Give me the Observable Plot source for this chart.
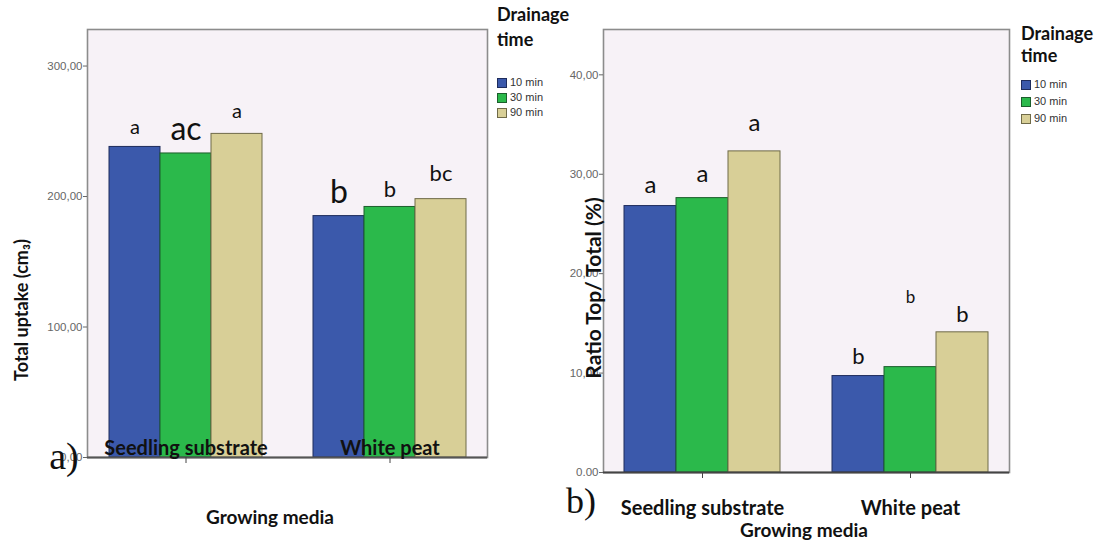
<!DOCTYPE html>
<html><head><meta charset="utf-8">
<script src="https://cdn.jsdelivr.net/npm/d3@7"></script>
<script src="https://cdn.jsdelivr.net/npm/@observablehq/plot@0.6"></script>
<style>
body{margin:0;background:#fff;}
#wrap{position:relative;width:1100px;height:544px;overflow:hidden;font-family:Lato,"Open Sans",sans-serif;color:#111;}
#pa{position:absolute;left:0;top:0;}
#pb{position:absolute;left:560px;top:0;}
.ov{position:absolute;white-space:nowrap;line-height:1;}
.bold{font-weight:700;}
.ytitle{transform:translate(-50%,-50%) rotate(-90deg);}
.ctr{transform:translate(-50%,-50%);}
.serif{font-family:"Liberation Serif","DejaVu Serif",serif;}
.leg{font-family:"Liberation Sans",Arial,sans-serif;font-size:11px;color:#333;display:flex;align-items:center;}
.sw{display:inline-block;width:10px;height:10px;margin-right:3px;box-sizing:border-box;border:1px solid #333;}
</style></head><body>
<div id="wrap">
  <div id="pa"></div>
  <div id="pb"></div>
</div>
<script>
// ---------- data ----------
const media = ["Seedling substrate", "White peat"];
const times = ["10 min", "30 min", "90 min"];
const uptakeSeedling = [238, 233, 248];
const uptakeWhitePeat = [185, 192, 198];
const ratioSeedling = [26.8, 27.6, 32.3];
const ratioWhitePeat = [9.7, 10.6, 14.1];
const lettersUptakeSeedling = ["a", "ac", "a"];
const lettersUptakeWhitePeat = ["b", "b", "bc"];
const lettersRatioSeedling = ["a", "a", "a"];
const lettersRatioWhitePeat = ["b", "b", "b"];
const uptakeTicks = [0, 100, 200, 300];
const uptakeTickLabels = ["0,00", "100,00", "200,00", "300,00"];
const ratioTicks = [0, 10, 20, 30, 40];
const ratioTickLabels = ["0.00", "10,00", "20,00", "30,00", "40,00"];
const legendTitle = ["Drainage", "time"];
const yTitleA = "Total uptake (cm\u2083)";
const yTitleB = "Ratio Top/ Total (%)";
const xTitle = "Growing media";
const panelTags = ["a)", "b)"];

// ---------- styles ----------
const fills = ["#3b59ab", "#2bb94b", "#d8cf97"];
const strokes = ["#1e2c5c", "#1c5e2c", "#6f6a48"];
// letter styling (font size / vertical offset in px), one per bar
const letterStyleA = [[20, -13], [32, -13], [20, -16], [32, -13], [22, -10], [22, -18]];
const letterStyleB = [[24, -13], [24, -16], [24, -20], [22, -12], [17, -64], [22, -10]];

const GAP = "\u00a0gap";
const slotKey = (m, t) => m + "|" + t;
const slots = [...times.map(t => slotKey(media[0], t)), GAP, ...times.map(t => slotKey(media[1], t))];

function rows(v0, v1, l0, l1, styles) {
  const out = [];
  [[v0, l0], [v1, l1]].forEach(([vals, lets], mi) => {
    times.forEach((t, ti) => {
      const k = mi * 3 + ti;
      out.push({medium: media[mi], time: t, slot: slotKey(media[mi], t), value: vals[ti],
        letter: lets[ti], fill: fills[ti], stroke: strokes[ti], fs: styles[k][0], dy: styles[k][1]});
    });
  });
  return out;
}
const rowsA = rows(uptakeSeedling, uptakeWhitePeat, lettersUptakeSeedling, lettersUptakeWhitePeat, letterStyleA);
const rowsB = rows(ratioSeedling, ratioWhitePeat, lettersRatioSeedling, lettersRatioWhitePeat, letterStyleB);
const mediaRows = media.map(m => ({medium: m, slot: slotKey(m, times[1])}));

function letterMarks(data) {
  const groups = d3.groups(data, d => d.fs + "_" + d.dy);
  return groups.map(([, g]) => Plot.text(g, {x: "slot", y: "value", text: "letter",
    dy: g[0].dy, fontSize: g[0].fs, lineAnchor: "bottom", fill: "#111",
    fontFamily: "Lato, sans-serif"}));
}

const tickStyle = {fontSize: 11.5, fontFamily: "Liberation Sans, Arial, sans-serif", fill: "#666", stroke: "#666", label: null};

const plotA = Plot.plot({
  width: 560, height: 544,
  marginLeft: 87, marginRight: 73, marginTop: 29, marginBottom: 87,
  x: {type: "band", domain: slots, paddingInner: 0, paddingOuter: 0.41, axis: null},
  y: {domain: [0, 328], axis: null},
  style: {background: "transparent", overflow: "visible"},
  marks: [
    Plot.frame({fill: "#f7f2f7", stroke: "#8c8c8c", strokeWidth: 1.6}),
    Plot.barY(rowsA, {x: "slot", y: "value", fill: "fill", stroke: "stroke", strokeWidth: 1, inset: 0}),
    Plot.ruleY([0], {stroke: "#555", strokeWidth: 2}),
    Plot.axisY({ticks: uptakeTicks, tickFormat: d => uptakeTickLabels[uptakeTicks.indexOf(d)],
      tickSize: 4, tickPadding: 1, ...tickStyle}),
    Plot.axisX({ticks: mediaRows.map(d => d.slot), tickFormat: () => "", tickSize: 6, stroke: "#444", label: null}),
    Plot.text(mediaRows, {x: "slot", y: 0, text: "medium", dy: -3, lineAnchor: "bottom",
      fontSize: 20, fontWeight: "bold", fill: "#111", fontFamily: "Lato, sans-serif"}),
    ...letterMarks(rowsA)
  ]
});
document.getElementById("pa").appendChild(plotA);

const plotB = Plot.plot({
  width: 540, height: 544,
  marginLeft: 43, marginRight: 91, marginTop: 29, marginBottom: 72,
  x: {type: "band", domain: slots, paddingInner: 0, paddingOuter: 0.385, axis: null},
  y: {domain: [0, 44.56], axis: null},
  style: {background: "transparent", overflow: "visible"},
  marks: [
    Plot.frame({fill: "#f7f2f7", stroke: "#8c8c8c", strokeWidth: 1.6}),
    Plot.barY(rowsB, {x: "slot", y: "value", fill: "fill", stroke: "stroke", strokeWidth: 1, inset: 0}),
    Plot.ruleY([0], {stroke: "#444", strokeWidth: 2}),
    Plot.axisY({ticks: ratioTicks, tickFormat: d => ratioTickLabels[ratioTicks.indexOf(d)],
      tickSize: 4, tickPadding: 1, ...tickStyle}),
    Plot.axisX({ticks: mediaRows.map(d => d.slot), tickFormat: () => "", tickSize: 6, stroke: "#444", label: null}),
    Plot.text(mediaRows, {x: "slot", y: 0, text: "medium", dy: 42, lineAnchor: "bottom",
      fontSize: 20, fontWeight: "bold", fill: "#111", fontFamily: "Lato, sans-serif"}),
    ...letterMarks(rowsB)
  ]
});
document.getElementById("pb").appendChild(plotB);

// ---------- overlay texts (titles, tags, legends) ----------
const wrap = document.getElementById("wrap");
function addText(txt, cls, css) {
  const d = document.createElement("div");
  d.className = "ov " + cls;
  d.textContent = txt;
  Object.assign(d.style, css);
  wrap.appendChild(d);
  return d;
}
addText(yTitleA, "bold ytitle", {left: "21px", top: "310px", fontSize: "18px"});
addText(yTitleB, "bold ytitle", {left: "592px", top: "288px", fontSize: "21px"});
addText(xTitle, "bold ctr", {left: "270px", top: "516px", fontSize: "19px"});
addText(xTitle, "bold ctr", {left: "804px", top: "529px", fontSize: "19px"});
addText(panelTags[0], "serif ctr", {left: "64px", top: "456px", fontSize: "38px"});
addText(panelTags[1], "serif ctr", {left: "581px", top: "501px", fontSize: "36px"});

function legend(x, yTitle, titleGap, yItems, itemGap) {
  legendTitle.forEach((t, i) => addText(t, "bold", {left: x + "px", top: (yTitle + i * titleGap - 9) + "px", fontSize: "18px"}));
  times.forEach((t, i) => {
    const d = document.createElement("div");
    d.className = "ov leg";
    Object.assign(d.style, {left: x + "px", top: (yItems + i * itemGap - 6) + "px"});
    const s = document.createElement("span");
    s.className = "sw";
    s.style.background = fills[i];
    s.style.borderColor = strokes[i];
    d.appendChild(s);
    d.appendChild(document.createTextNode(t));
    wrap.appendChild(d);
  });
}
legend(497, 14, 25, 83, 15);
legend(1021, 33, 22, 85, 17);
</script>
</body></html>
